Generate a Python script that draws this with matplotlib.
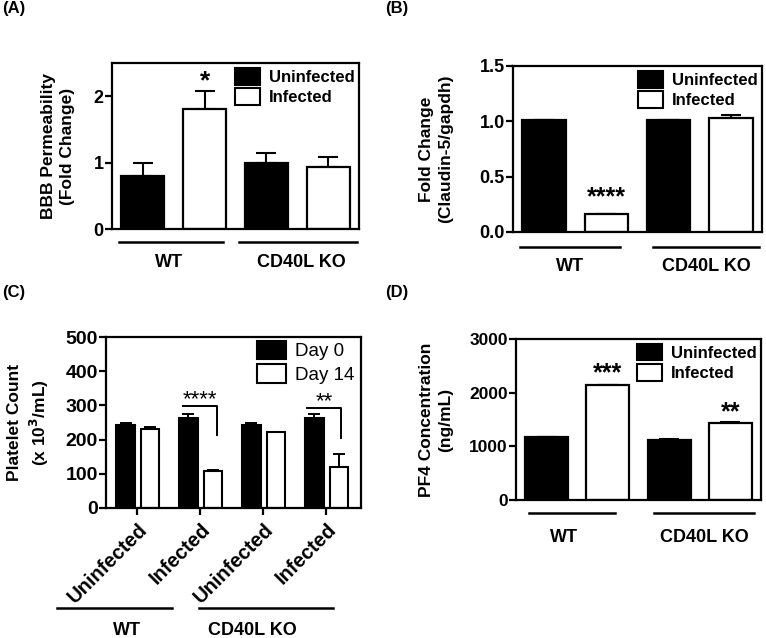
import numpy as np
import matplotlib
matplotlib.use("Agg")
import matplotlib.pyplot as plt
import matplotlib.transforms as mtransforms
from matplotlib.patches import Patch

plt.rcParams['font.family'] = ['Liberation Sans', 'DejaVu Sans']
plt.rcParams['font.weight'] = 'bold'

# ---- data ----
groups = ["WT", "CD40L KO"]
cond_labels = ["Uninfected", "Infected"]

# (A) BBB permeability: WT-Uninf, WT-Inf, KO-Uninf, KO-Inf
bbb_mean = [0.80, 1.80, 1.00, 0.93]
bbb_err = [0.20, 0.28, 0.15, 0.16]

# (B) Claudin-5 / gapdh
cld_mean = [1.01, 0.16, 1.01, 1.03]
cld_err = [0.005, 0.005, 0.005, 0.03]

# (C) platelet counts, x 10^3/mL
plt_groups = ["Uninfected", "Infected", "Uninfected", "Infected"]
plt_day0 = [243, 262, 243, 262]
plt_day0_err = [7, 13, 7, 13]
plt_day14 = [232, 108, 222, 120]
plt_day14_err = [6, 4, 0, 38]

# (D) PF4 concentration, ng/mL
pf4_mean = [1170, 2140, 1110, 1440]
pf4_err = [5, 10, 25, 20]

W, H = 766, 638
fig = plt.figure(figsize=(W / 100, H / 100), dpi=100)


def add_ax(l, r, t, b):
    return fig.add_axes([l / W, 1 - b / H, (r - l) / W, (b - t) / H])


def style(ax, size=13):
    for s in ax.spines.values():
        s.set_linewidth(1.6)
    ax.tick_params(axis='y', width=1.6, length=5, labelsize=size, pad=1)
    for lab in ax.get_yticklabels():
        lab.set_fontweight('bold')


def ylab(ax, txt, x_px):
    # two-line y label centred on a fixed pixel column
    ax.set_ylabel(txt, fontsize=12.5, fontweight='bold', linespacing=1.35)
    ax.yaxis.label.set_va('center')
    bbox = ax.get_position()
    ax.yaxis.set_label_coords((x_px / W - bbox.x0) / bbox.width, 0.5)


def group_lines(ax, lines, labels, ly, ty):
    tr = mtransforms.blended_transform_factory(ax.transData, ax.transAxes)
    for (x0, x1), (tx, txt) in zip(lines, labels):
        ax.plot([x0, x1], [ly, ly], color='black', lw=1.8, transform=tr, clip_on=False)
        ax.text(tx, ty, txt, transform=tr, ha='center', va='center',
                fontsize=13, fontweight='bold')


def legend(ax, handles, labels, weight, size, anchor):
    leg = ax.legend(handles=handles, labels=labels, loc='upper right', frameon=False,
                    fontsize=size, handlelength=1.55, handleheight=1.15,
                    handletextpad=0.5, labelspacing=0.2, borderaxespad=0.0,
                    borderpad=0.2, bbox_to_anchor=anchor)
    for t in leg.get_texts():
        t.set_fontweight(weight)
    return leg


def four_bar_panel(ax, means, errs, cap):
    x = np.arange(4)
    colors = ['black', 'white', 'black', 'white']
    ax.bar(x, means, width=0.7, color=colors, edgecolor='black', linewidth=1.6, zorder=2)
    ax.errorbar(x, means, yerr=[np.zeros(4), errs], fmt='none', ecolor='black',
                elinewidth=1.5, capsize=cap, capthick=1.5, zorder=1)
    ax.set_xlim(-0.5, 3.5)
    ax.set_xticks([])
    legend(ax, [Patch(facecolor='black', edgecolor='black', lw=1.5),
                Patch(facecolor='white', edgecolor='black', lw=1.5)],
           cond_labels, 'bold', 12, (0.995, 0.99))


# ---- (A) ----
axA = add_ax(112, 359, 63, 229)
four_bar_panel(axA, bbb_mean, bbb_err, 7)
axA.set_ylim(0, 2.5)
axA.set_yticks([0, 1, 2])
style(axA, 13)
ylab(axA, "BBB Permeability\n(Fold Change)", 58)
axA.text(1, 2.23, "*", ha='center', va='center', fontsize=19, fontweight='bold')
group_lines(axA, [(-0.38, 1.29), (1.56, 3.46)], [(0.43, "WT"), (2.57, "CD40L KO")],
            -0.078, -0.2)

# ---- (B) ----
axB = add_ax(513, 762, 66, 232)
four_bar_panel(axB, cld_mean, cld_err, 7)
axB.set_ylim(0, 1.5)
axB.set_yticks([0, 0.5, 1.0, 1.5])
axB.set_yticklabels(["0.0", "0.5", "1.0", "1.5"])
style(axB, 13)
ylab(axB, "Fold Change\n(Claudin-5/gapdh)", 436)
axB.text(1, 0.31, "****", ha='center', va='center', fontsize=18, fontweight='bold')
group_lines(axB, [(-0.39, 1.22), (1.75, 3.45)], [(0.41, "WT"), (2.6, "CD40L KO")],
            -0.09, -0.21)

# ---- (C) ----
axC = add_ax(106, 361, 337, 508)
xc = np.arange(4)
axC.bar(xc - 0.19, plt_day0, width=0.29, color='black', edgecolor='black', linewidth=1.5,
        zorder=2, label="Day 0")
axC.bar(xc + 0.2, plt_day14, width=0.29, color='white', edgecolor='black', linewidth=1.5,
        zorder=2, label="Day 14")
axC.errorbar(xc - 0.19, plt_day0, yerr=[np.zeros(4), plt_day0_err], fmt='none',
             ecolor='black', elinewidth=1.4, capsize=4, capthick=1.4, zorder=1)
axC.errorbar(xc + 0.2, plt_day14, yerr=[np.zeros(4), plt_day14_err], fmt='none',
             ecolor='black', elinewidth=1.4, capsize=4, capthick=1.4, zorder=1)
axC.set_xlim(-0.5, 3.55)
axC.set_ylim(0, 500)
axC.set_yticks([0, 100, 200, 300, 400, 500])
axC.set_xticks(xc)
axC.set_xticklabels(plt_groups, rotation=45, ha='right', rotation_mode='anchor',
                    fontsize=14.5, fontweight='bold')
axC.tick_params(axis='x', width=1.6, length=5)
style(axC, 14)
ylab(axC, "Platelet Count\n(x 10$^\\mathbf{3}$/mL)", 29)
# significance brackets
brackets = [(0.73, 1.26, 298, 213, "****"), (2.69, 3.24, 292, 205, "**")]
for x0, x1, ytop, ybot, stars in brackets:
    axC.plot([x0, x1, x1], [ytop, ytop, ybot], color='black', lw=1.4)
    axC.text((x0 + x1) / 2, ytop - 12, stars, ha='center', va='bottom',
             fontsize=16, fontweight='normal')
legend(axC, axC.get_legend_handles_labels()[0], ["Day 0", "Day 14"], 'normal', 13.5,
       (0.99, 1.0))
group_lines(axC, [(-1.28, 0.55), (0.98, 3.11)], [(-0.17, "WT"), (1.82, "CD40L KO")],
            -0.585, -0.715)

# ---- (D) ----
axD = add_ax(516, 761, 339, 500)
four_bar_panel(axD, pf4_mean, pf4_err, 7)
axD.set_ylim(0, 3000)
axD.set_yticks([0, 1000, 2000, 3000])
style(axD, 12.5)
ylab(axD, "PF4 Concentration\n(ng/mL)", 436)
axD.text(1, 2366, "***", ha='center', va='center', fontsize=18, fontweight='bold')
axD.text(3, 1640, "**", ha='center', va='center', fontsize=18, fontweight='bold')
group_lines(axD, [(-0.29, 1.11), (1.75, 3.39)], [(0.29, "WT"), (2.58, "CD40L KO")],
            -0.081, -0.236)

# panel letters
for txt, x, y in [("(A)", 2, 8), ("(B)", 385, 8), ("(C)", 2, 293), ("(D)", 385, 293)]:
    fig.text(x / W, 1 - y / H, txt, ha='left', va='center', fontsize=12, fontweight='bold')

fig.savefig("out.png", dpi=100)
